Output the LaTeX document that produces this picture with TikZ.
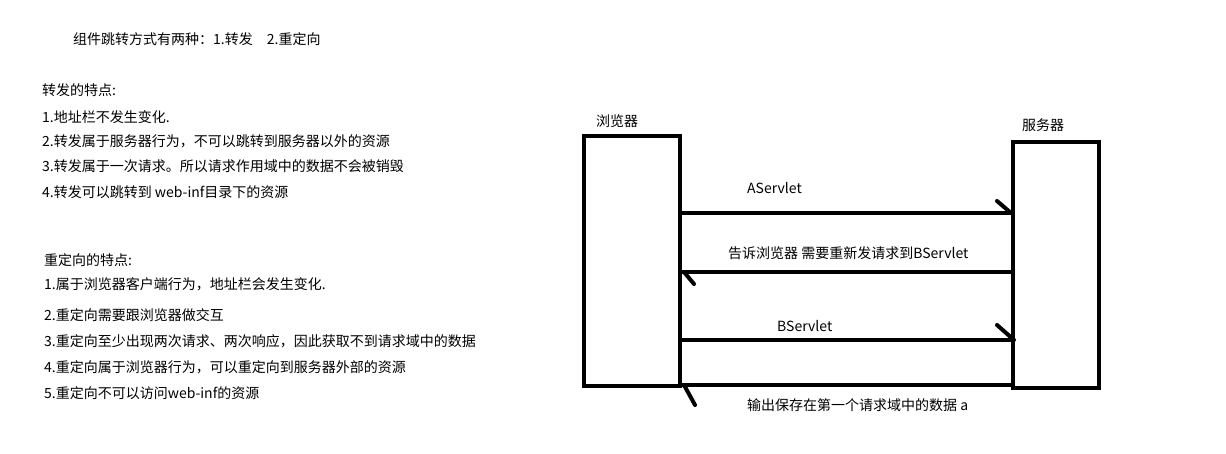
\documentclass[tikz,border=0pt]{standalone}
\usepackage{fontspec}
\setmainfont{Noto Sans CJK SC}
\begin{document}
\begin{tikzpicture}[x=1pt,y=-1pt,
  txt/.style={anchor=west,inner sep=0pt,font=\fontsize{14}{17}\selectfont},
  lbl/.style={anchor=west,inner sep=0pt,font=\fontsize{14}{17}\selectfont},
  box/.style={draw,line width=4pt,inner sep=0pt},
  msg/.style={line width=4pt},
  barb/.style={line width=4pt,line cap=round}]
\useasboundingbox (0,0) rectangle (1226,454);
% left text
\node[txt] (title) at (73,39) {组件跳转方式有两种：1.转发\hspace{1em}2.重定向};
\node[txt] (f0) at (42,90) {转发的特点:};
\node[txt] (f1) at (42,117) {1.地址栏不发生变化.};
\node[txt] (f2) at (42,141) {2.转发属于服务器行为，不可以跳转到服务器以外的资源};
\node[txt] (f3) at (42,166) {3.转发属于一次请求。所以请求作用域中的数据不会被销毁};
\node[txt] (f4) at (42,192) {4.转发可以跳转到 web-inf目录下的资源};
\node[txt] (r0) at (44,260) {重定向的特点:};
\node[txt] (r1) at (44,284) {1.属于浏览器客户端行为，地址栏会发生变化.};
\node[txt] (r2) at (44,315) {2.重定向需要跟浏览器做交互};
\node[txt] (r3) at (44,341) {3.重定向至少出现两次请求、两次响应，因此获取不到请求域中的数据};
\node[txt] (r4) at (44,367) {4.重定向属于浏览器行为，可以重定向到服务器外部的资源};
\node[txt] (r5) at (44,393) {5.重定向不可以访问web-inf的资源};
% boxes
\node[box,minimum width=96pt,minimum height=250pt] (b) at (632,261) {};
\node[box,minimum width=86pt,minimum height=246pt] (s) at (1056,265) {};
\node[lbl] (bl) at (596,121) {浏览器};
\node[lbl] (sl) at (1022,125) {服务器};
% levels
\coordinate (y1) at (0,213);
\coordinate (y2) at (0,272);
\coordinate (y3) at (0,340);
\coordinate (y4) at (0,385);
\draw[msg] (b.east |- y1) -- (s.west |- y1);
\draw[barb] (s.west |- y1) -- ++(-14,-12);
\draw[msg] (s.west |- y2) -- (b.east |- y2);
\draw[barb] ([xshift=2pt]b.east |- y2) -- ++(10,12);
\draw[msg] (b.east |- y3) -- (s.west |- y3);
\draw[barb] ([xshift=3pt]s.west |- y3) -- ++(-17,-15);
\draw[msg] (s.west |- y4) -- (b.east |- y4);
\draw[barb] ([xshift=2pt]b.east |- y4) -- ++(11,20);
% message labels
\node[lbl] (m1) at (747,188) {AServlet};
\node[lbl] (m2) at (728,253) {告诉浏览器 需要重新发请求到BServlet};
\node[lbl] (m3) at (777,326) {BServlet};
\node[lbl] (m4) at (747,405) {输出保存在第一个请求域中的数据 a};
\end{tikzpicture}
\end{document}
